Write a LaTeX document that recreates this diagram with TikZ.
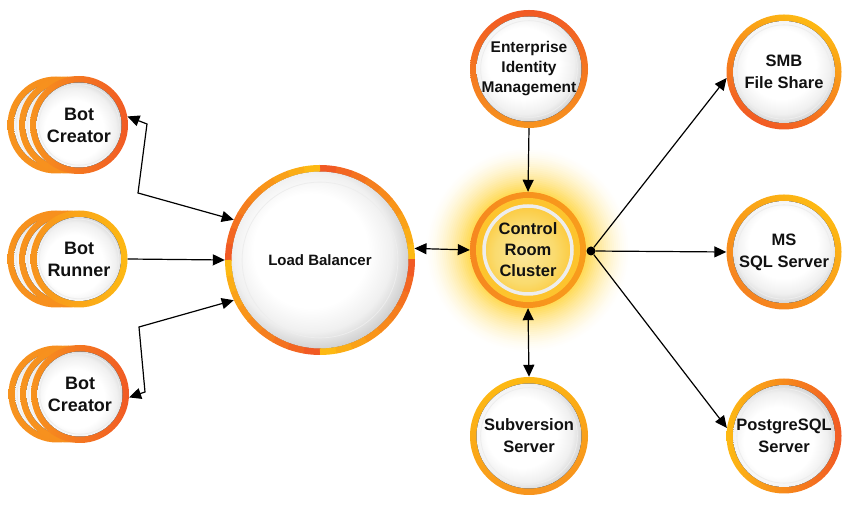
\documentclass[tikz,border=0pt]{standalone}
\usepackage{fontspec}
\setmainfont{Liberation Sans}
\usetikzlibrary{arrows.meta}

\definecolor{rustorange}{HTML}{F15A24}
\definecolor{midorange}{HTML}{F7931E}
\definecolor{sunyellow}{HTML}{FDB913}
\definecolor{glowyellow}{HTML}{FFD43A}
\definecolor{coreyellow}{HTML}{FDC42E}
\definecolor{innerlight}{HTML}{FADB6E}
\definecolor{textblack}{HTML}{111111}

\pgfdeclareradialshading{ballshade}{\pgfpoint{-3.5bp}{3.5bp}}{color(0bp)=(white); color(15bp)=(white); color(21bp)=(black!6); color(26bp)=(black!20); color(31bp)=(black!36); color(50bp)=(black!36)}
\pgfdeclareradialshading{coreshade}{\pgfpoint{-3bp}{3bp}}{color(0bp)=(innerlight!70!white); color(17bp)=(innerlight); color(30bp)=(coreyellow); color(50bp)=(coreyellow)}

\tikzset{
  ballnode/.style={circle, inner sep=0pt, minimum size=#1, align=center, text=textblack,
    path picture={
      \fill[shading=ballshade] (path picture bounding box.center) circle[radius=0.5*#1-6.5pt];
      \draw[black!7, line width=0.8pt] (path picture bounding box.center) circle[radius=0.41*#1];
    }},
  botfont/.style={font=\fontsize{18}{22}\selectfont\bfseries},
  srvfont/.style={font=\fontsize{16.5}{22}\selectfont\bfseries},
  botback/.style={ballnode=97pt, left color=midorange, right color=midorange!85!rustorange},
  link/.style={-{Triangle[length=12pt,width=11pt]}, line width=1.2pt, black},
  duplex/.style={{Triangle[length=12pt,width=11pt]}-{Triangle[length=12pt,width=11pt]}, line width=1.2pt, black},
  crcnode/.style={circle, inner sep=0pt, minimum size=116pt, align=center, text=textblack,
    font=\fontsize{16.5}{21}\selectfont\bfseries,
    left color=midorange!80!rustorange, right color=midorange!75!sunyellow,
    path picture={
      \fill[coreyellow] (path picture bounding box.center) circle[radius=52pt];
      \fill[shading=coreshade] (path picture bounding box.center) circle[radius=44pt];
      \draw[white!93!black, line width=3.5pt] (path picture bounding box.center) circle[radius=44pt];
    }}
}

\begin{document}
\begin{tikzpicture}[x=1pt,y=1pt]
  \useasboundingbox (0,0) rectangle (848,505);

  % bot stacks
  \node[botback] (bc1back) at (56,380) {};
  \node[botback] (bc1mid) at (67.5,380) {};
  \node[ballnode=98pt, botfont, left color=midorange, right color=rustorange] (bc1) at (79,380) {Bot\\Creator};

  \node[botback] (brback) at (56,246) {};
  \node[botback] (brmid) at (67.5,246) {};
  \node[ballnode=97pt, botfont, left color=midorange, right color=sunyellow] (br) at (79,246) {Bot\\Runner};

  \node[botback] (bc2back) at (57,111) {};
  \node[botback] (bc2mid) at (68.5,111) {};
  \node[ballnode=98pt, botfont, left color=midorange, right color=rustorange] (bc2) at (80,111) {Bot\\Creator};

  % load balancer, ring in four parts
  \node[ballnode=190pt, font=\fontsize{15}{18}\selectfont\bfseries] (lb) at (320,245) {Load Balancer};
  \foreach \q in {0,90,180,270}{
    \foreach \s in {0,...,8}{
      \pgfmathsetmacro{\mix}{100-\s*12.5}
      \draw[line width=6.5pt, color=sunyellow!\mix!rustorange] (lb.center) ++(\q+\s*10:91.75pt)
        arc[start angle=\q+\s*10, end angle=\q+\s*10+10.5, radius=91.75pt];
    }
  }

  % control room with glow
  \coordinate (crcpos) at (528,255);
  \foreach \r in {104,102,...,58}{
    \pgfmathsetmacro{\glow}{90*((104-\r)/46)^1.6}
    \fill[glowyellow!\glow!white] (crcpos) circle[radius=\r pt];
  }
  \node[crcnode] (crc) at (crcpos) {Control\\Room\\Cluster};

  \node[ballnode=118pt, font=\fontsize{15.5}{20}\selectfont\bfseries, top color=rustorange, bottom color=midorange] (eim) at (529,436) {Enterprise\\Identity\\Management};
  \node[ballnode=118pt, srvfont, left color=sunyellow, right color=midorange, shading angle=20] (svn) at (529,69) {Subversion\\Server};

  \node[ballnode=115pt, srvfont, top color=sunyellow, bottom color=rustorange, shading angle=-25] (smb) at (784,433) {SMB\\File Share};
  \node[ballnode=115pt, srvfont, top color=sunyellow, bottom color=midorange!70!rustorange, shading angle=-40] (sql) at (784,253) {MS\\SQL Server};
  \node[ballnode=115pt, srvfont, left color=sunyellow, right color=rustorange] (pg) at (784,69) {PostgreSQL\\Server};

  \node[circle, fill=black, inner sep=0pt, minimum size=9pt] (hub) at (591,254) {};

  % connectors
  \coordinate (k1) at (147,381);
  \coordinate (k2) at (138,312);
  \coordinate (k3) at (139,178);
  \coordinate (k4) at (145,113);
  \draw[duplex] (bc1.10) -- (k1) -- (k2) -- (lb.155);
  \draw[duplex] (bc2.-4) -- (k4) -- (k3) -- (lb.205);
  \draw[link] (br.east) -- (lb.west);
  \draw[duplex] (lb.7) -- (crc.west);
  \draw[link] (eim.south) -- (crc.north);
  \draw[duplex] (crc.south) -- (svn.north);
  \draw[link] (hub) -- (smb.186);
  \draw[link] (hub) -- (sql.west);
  \draw[link] (hub) -- (pg.172);
\end{tikzpicture}
\end{document}
